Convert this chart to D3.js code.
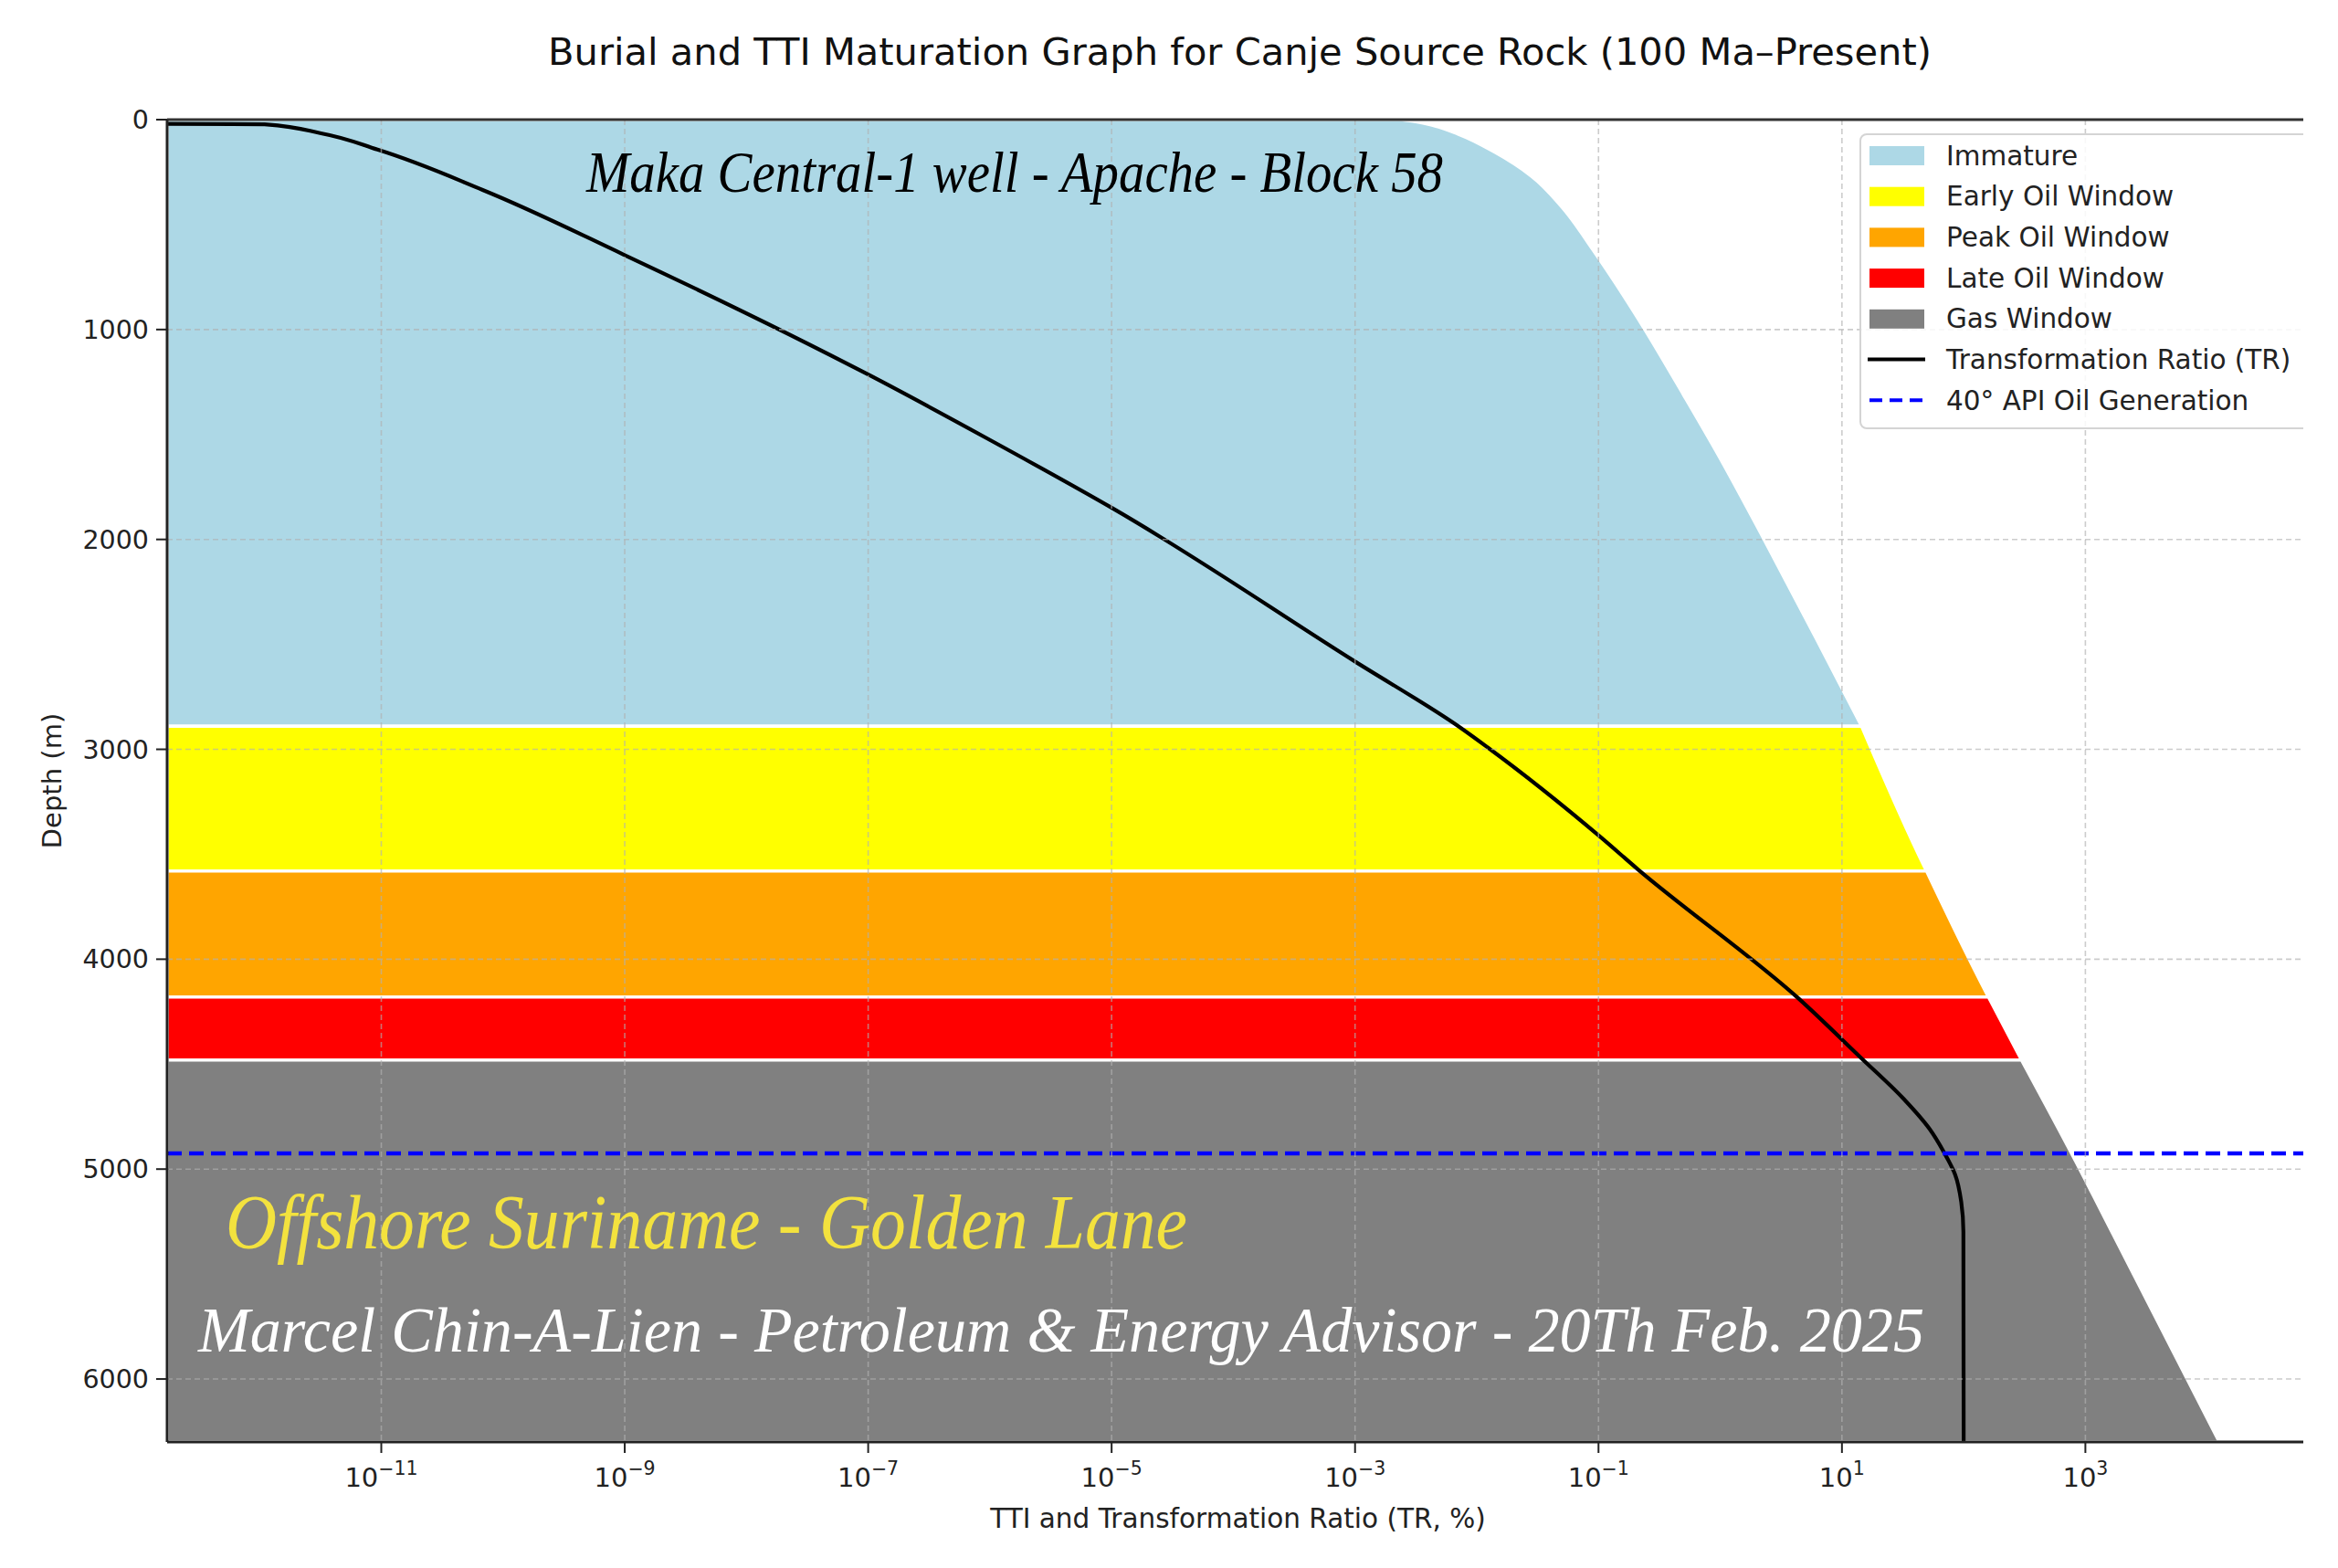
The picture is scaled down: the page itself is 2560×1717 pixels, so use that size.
<!DOCTYPE html>
<html><head><meta charset="utf-8">
<script src="https://cdn.jsdelivr.net/npm/d3@7"></script>
<style>body{margin:0;background:#fff} svg{display:block}</style>
</head><body>
<svg id="chart" width="2560" height="1717"></svg>
<script>
// ---------------- data ----------------
const zoneNames = ["Immature", "Early Oil Window", "Peak Oil Window", "Late Oil Window", "Gas Window"];
const zoneTopDepth = [0, 2890, 3580, 4180, 4480];
const zoneBaseDepth = [2890, 3580, 4180, 4480, 6300];
const zoneColors = ["#add8e6", "#ffff00", "#ffa500", "#ff0000", "#808080"];

// TTI maturity envelope (right edge of the coloured windows)
const boundaryDepth = [0, 10, 30, 70, 156, 270, 417, 617, 852, 1000, 1313, 1604, 2000, 2474, 2890, 3575, 4175, 4475, 4974, 5200, 6300];
const boundaryTTI = [2.4e-3, 3.16e-3, 4.47e-3, 7.08e-3, 0.0141, 0.0282, 0.0501, 0.0891, 0.166, 0.24, 0.501, 0.977, 2.29, 6.17, 14.5, 49, 158, 295, 851, 1349, 12589];

// Transformation ratio (TR, %)
const trDepth = [20, 22, 65, 143, 335, 643, 1217, 1526, 1852, 2585, 2891, 2991, 3417, 3570, 4183, 4466, 4661, 4809, 4922, 5026, 5156, 5300, 6300];
const trPercent = [1e-13, 1.1e-12, 3.2e-12, 9.3e-12, 6.8e-11, 9.8e-10, 1.02e-7, 1e-6, 1.02e-5, 1.02e-3, 7.1e-3, 0.0123, 0.1035, 0.209, 4.32, 14.1, 31.6, 52.5, 69.2, 85.1, 95.5, 99.5, 100];

const api40Depth = 4925;

const xLimits = [1.74e-13, 6.17e4];
const yLimits = [0, 6300];
const xTickValues = [1e-11, 1e-9, 1e-7, 1e-5, 1e-3, 1e-1, 1e1, 1e3];
const xTickExponents = ["\u221211", "\u22129", "\u22127", "\u22125", "\u22123", "\u22121", "1", "3"];
const yTickValues = [0, 1000, 2000, 3000, 4000, 5000, 6000];

const legendLabels = ["Immature", "Early Oil Window", "Peak Oil Window", "Late Oil Window", "Gas Window", "Transformation Ratio (TR)", "40\u00b0 API Oil Generation"];

const titleText = "Burial and TTI Maturation Graph for Canje Source Rock (100 Ma\u2013Present)";
const xLabelText = "TTI and Transformation Ratio (TR, %)";
const yLabelText = "Depth (m)";
const noteWell = "Maka Central-1 well - Apache - Block 58";
const noteArea = "Offshore Suriname - Golden Lane";
const noteAuthor = "Marcel Chin-A-Lien - Petroleum & Energy Advisor - 20Th Feb. 2025";

// ---------------- layout ----------------
const L = 183, R = 2522, T = 131, B = 1579;
const svg = d3.select("#chart");
const x = d3.scaleLog().domain(xLimits).range([L, R]);
const y = d3.scaleLinear().domain(yLimits).range([T, B]);
const sans = "'DejaVu Sans', sans-serif";
const serif = "'Liberation Serif', 'DejaVu Serif', serif";

svg.append("rect").attr("width", 2560).attr("height", 1717).attr("fill", "#fff");

const defs = svg.append("defs");
defs.append("clipPath").attr("id", "plotClip").append("rect")
  .attr("x", L).attr("y", T).attr("width", R - L).attr("height", B - T);
defs.append("clipPath").attr("id", "figClip").append("rect")
  .attr("x", 0).attr("y", 0).attr("width", R).attr("height", 1717);

const plot = svg.append("g").attr("clip-path", "url(#plotClip)");

// ---------- zones ----------
const logInterp = d3.scaleLinear().domain(boundaryDepth).range(boundaryTTI.map(v => Math.log10(v)));
const area = d3.area()
  .y(d => y(d.depth))
  .x0(() => x(xLimits[0]))
  .x1(d => x(d.tti))
  .curve(d3.curveMonotoneY);

zoneNames.forEach((name, i) => {
  const top = zoneTopDepth[i], base = zoneBaseDepth[i];
  const pts = [{depth: top, tti: Math.pow(10, logInterp(top))}];
  boundaryDepth.forEach((d, j) => { if (d > top && d < base) pts.push({depth: d, tti: boundaryTTI[j]}); });
  pts.push({depth: base, tti: Math.pow(10, logInterp(base))});
  plot.append("path").datum(pts)
    .attr("d", area)
    .attr("fill", zoneColors[i])
    .attr("stroke", "#fff")
    .attr("stroke-width", 3.4)
    .attr("stroke-linejoin", "miter");
});

// ---------- grid ----------
const grid = svg.append("g").attr("clip-path", "url(#plotClip)");
grid.selectAll("line.gx").data(xTickValues).join("line")
  .attr("x1", d => x(d)).attr("x2", d => x(d)).attr("y1", T).attr("y2", B)
  .attr("stroke", "#b0b0b0").attr("stroke-opacity", 0.65).attr("stroke-width", 1.6).attr("stroke-dasharray", "6,4");
grid.selectAll("line.gy").data(yTickValues).join("line")
  .attr("y1", d => y(d)).attr("y2", d => y(d)).attr("x1", L).attr("x2", R)
  .attr("stroke", "#b0b0b0").attr("stroke-opacity", 0.65).attr("stroke-width", 1.6).attr("stroke-dasharray", "6,4");

// ---------- TR line ----------
const trData = trDepth.map((d, i) => ({depth: d, tr: trPercent[i]}));
const trLine = d3.line().x(d => x(d.tr)).y(d => y(d.depth)).curve(d3.curveMonotoneY);
plot.append("path").datum(trData).attr("d", trLine)
  .attr("fill", "none").attr("stroke", "#000").attr("stroke-width", 4.2);

// ---------- 40 API line ----------
plot.append("line")
  .attr("x1", x(xLimits[0])).attr("x2", x(xLimits[1]))
  .attr("y1", y(api40Depth)).attr("y2", y(api40Depth))
  .attr("stroke", "#0000ff").attr("stroke-width", 4.5).attr("stroke-dasharray", "16,8");

// ---------- annotations ----------
svg.append("text").text(noteWell)
  .attr("x", 642).attr("y", 210).attr("textLength", 938).attr("lengthAdjust", "spacingAndGlyphs")
  .attr("font-family", serif).attr("font-style", "italic").attr("font-size", 64).attr("fill", "#000");
svg.append("text").text(noteArea)
  .attr("x", 247).attr("y", 1367).attr("textLength", 1053).attr("lengthAdjust", "spacingAndGlyphs")
  .attr("font-family", serif).attr("font-style", "italic").attr("font-size", 84).attr("fill", "#f3e23e");
svg.append("text").text(noteAuthor)
  .attr("x", 217).attr("y", 1480).attr("textLength", 1890).attr("lengthAdjust", "spacingAndGlyphs")
  .attr("font-family", serif).attr("font-style", "italic").attr("font-size", 70).attr("fill", "#fff");

// ---------- axes ----------
const axes = svg.append("g").attr("clip-path", "url(#figClip)");
axes.append("line").attr("x1", L).attr("x2", R).attr("y1", T).attr("y2", T).attr("stroke", "#333").attr("stroke-width", 3);
axes.append("line").attr("x1", L).attr("x2", R).attr("y1", B).attr("y2", B).attr("stroke", "#222").attr("stroke-width", 3);
axes.append("line").attr("x1", L).attr("x2", L).attr("y1", T).attr("y2", B).attr("stroke", "#222").attr("stroke-width", 3);

const xt = axes.selectAll("g.xt").data(xTickValues).join("g").attr("transform", d => `translate(${x(d)},${B})`);
xt.append("line").attr("y1", 0).attr("y2", 12).attr("stroke", "#222").attr("stroke-width", 2);
const xtText = xt.append("text").attr("y", 49).attr("text-anchor", "middle")
  .attr("font-family", sans).attr("font-size", 29).attr("fill", "#222");
xtText.append("tspan").text("10");
xtText.append("tspan").text((d, i) => xTickExponents[i]).attr("font-size", 20.5).attr("dy", -13);

const yt = axes.selectAll("g.yt").data(yTickValues).join("g").attr("transform", d => `translate(${L},${y(d)})`);
yt.append("line").attr("x1", 0).attr("x2", -12).attr("stroke", "#222").attr("stroke-width", 2);
yt.append("text").text(d => d).attr("x", -20).attr("dy", "0.35em").attr("text-anchor", "end")
  .attr("font-family", sans).attr("font-size", 28.5).attr("fill", "#222");

svg.append("text").text(xLabelText).attr("x", (L + R) / 2 + 3).attr("y", 1673).attr("text-anchor", "middle")
  .attr("font-family", sans).attr("font-size", 29.5).attr("fill", "#222");
svg.append("text").text(yLabelText).attr("transform", `translate(67,${(T + B) / 2}) rotate(-90)`).attr("text-anchor", "middle")
  .attr("font-family", sans).attr("font-size", 29).attr("fill", "#222");

svg.append("text").text(titleText).attr("x", (L + R) / 2 + 5).attr("y", 71).attr("text-anchor", "middle")
  .attr("font-family", sans).attr("font-size", 41.6).attr("fill", "#111");

// ---------- legend ----------
const leg = svg.append("g").attr("clip-path", "url(#figClip)");
leg.append("rect").attr("x", 2037).attr("y", 147).attr("width", 520).attr("height", 322).attr("rx", 7)
  .attr("fill", "#fff").attr("fill-opacity", 0.85).attr("stroke", "#d4d4d4").attr("stroke-width", 2);
legendLabels.forEach((lab, i) => {
  const cy = 170 + i * 44.7;
  if (i < zoneColors.length) {
    leg.append("rect").attr("x", 2047).attr("y", cy - 10).attr("width", 60).attr("height", 21).attr("fill", zoneColors[i]);
  } else if (i === 5) {
    leg.append("line").attr("x1", 2045).attr("x2", 2108).attr("y1", cy).attr("y2", cy).attr("stroke", "#000").attr("stroke-width", 4);
  } else {
    leg.append("line").attr("x1", 2047).attr("x2", 2108).attr("y1", cy).attr("y2", cy).attr("stroke", "#0000ff").attr("stroke-width", 4).attr("stroke-dasharray", "14,8");
  }
  leg.append("text").text(lab).attr("x", 2131).attr("y", cy).attr("dy", "0.36em")
    .attr("font-family", sans).attr("font-size", 29.5).attr("fill", "#222");
});
</script>
</body></html>
